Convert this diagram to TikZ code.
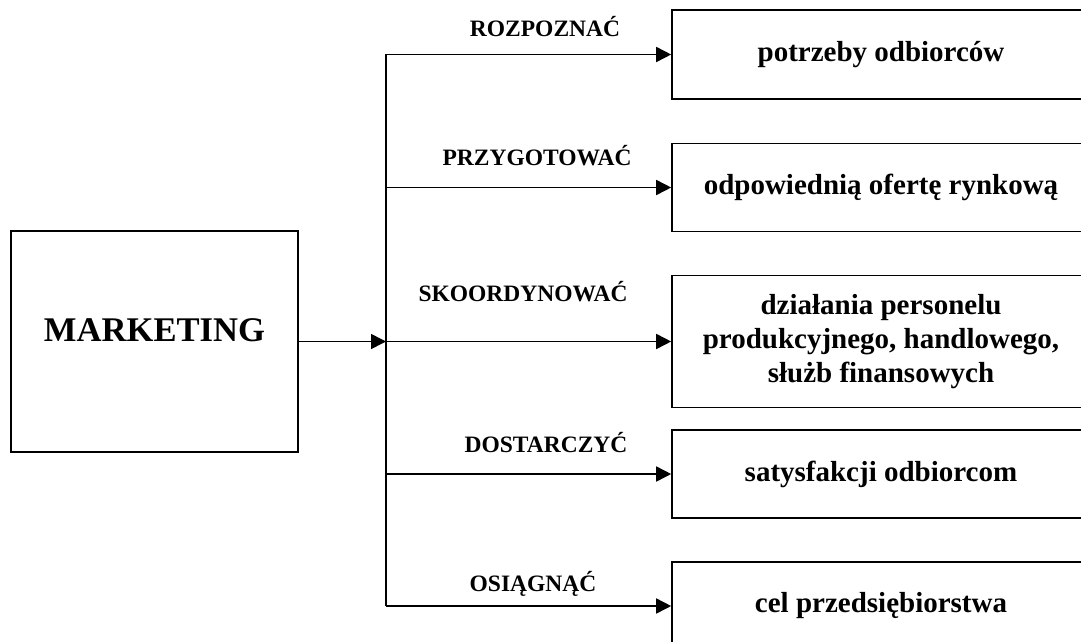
\documentclass[tikz,border=0pt]{standalone}
\usepackage{fontspec}
\setmainfont{Liberation Serif}
\usetikzlibrary{arrows.meta}
\begin{document}
\begin{tikzpicture}[x=1pt,y=-1pt,line width=1.6pt,
  goal/.style={draw,minimum width=418pt,inner sep=0pt,align=center,
    font=\fontsize{29}{34}\selectfont\bfseries},
  verb/.style={anchor=base,inner sep=0pt,font=\fontsize{23.5}{28}\selectfont\bfseries},
  link/.style={-{Triangle[length=15pt,width=15pt]}}]
\useasboundingbox (0,0) rectangle (1081,642);
\clip (0,0) rectangle (1081,642);

% main box
\node[draw,minimum width=287pt,minimum height=221pt] (mk) at (154.5,341.5) {};
\node[font=\fontsize{34.6}{40}\selectfont\bfseries,inner sep=0pt] (mktext) at (154.5,330) {MARKETING};

% goal boxes
\node[goal,minimum height=89pt] (b1) at (881,54.5) {potrzeby odbiorców};
\node[goal,minimum height=88pt] (b2) at (881,187.5) {odpowiednią ofertę rynkową};
\node[goal,minimum height=132pt] (b3) at (881,341.5) {działania personelu\\produkcyjnego, handlowego,\\służb finansowych};
\node[goal,minimum height=88pt] (b4) at (881,474) {satysfakcji odbiorcom};
\node[goal,minimum height=88pt] (b5) at (881,606) {cel przedsiębiorstwa};

% trunk line
\coordinate (j) at (386,341.5);
\coordinate (top) at (386,54.5);
\coordinate (bot) at (386,606);
\draw (top) -- (bot);
\draw[link] (mk.east) -- (j);

% branches
\draw[link] (b1.west -| j) -- (b1.west);
\draw[link] (b2.west -| j) -- (b2.west);
\draw[link] (b3.west -| j) -- (b3.west);
\draw[link] (b4.west -| j) -- (b4.west);
\draw[link] (b5.west -| j) -- (b5.west);

% branch labels
\node[verb] (v1) at (545,37) {ROZPOZNAĆ};
\node[verb] (v2) at (537,165) {PRZYGOTOWAĆ};
\node[verb] (v3) at (523,301) {SKOORDYNOWAĆ};
\node[verb] (v4) at (546,452) {DOSTARCZYĆ};
\node[verb] (v5) at (533,591) {OSIĄGNĄĆ};
\end{tikzpicture}
\end{document}
